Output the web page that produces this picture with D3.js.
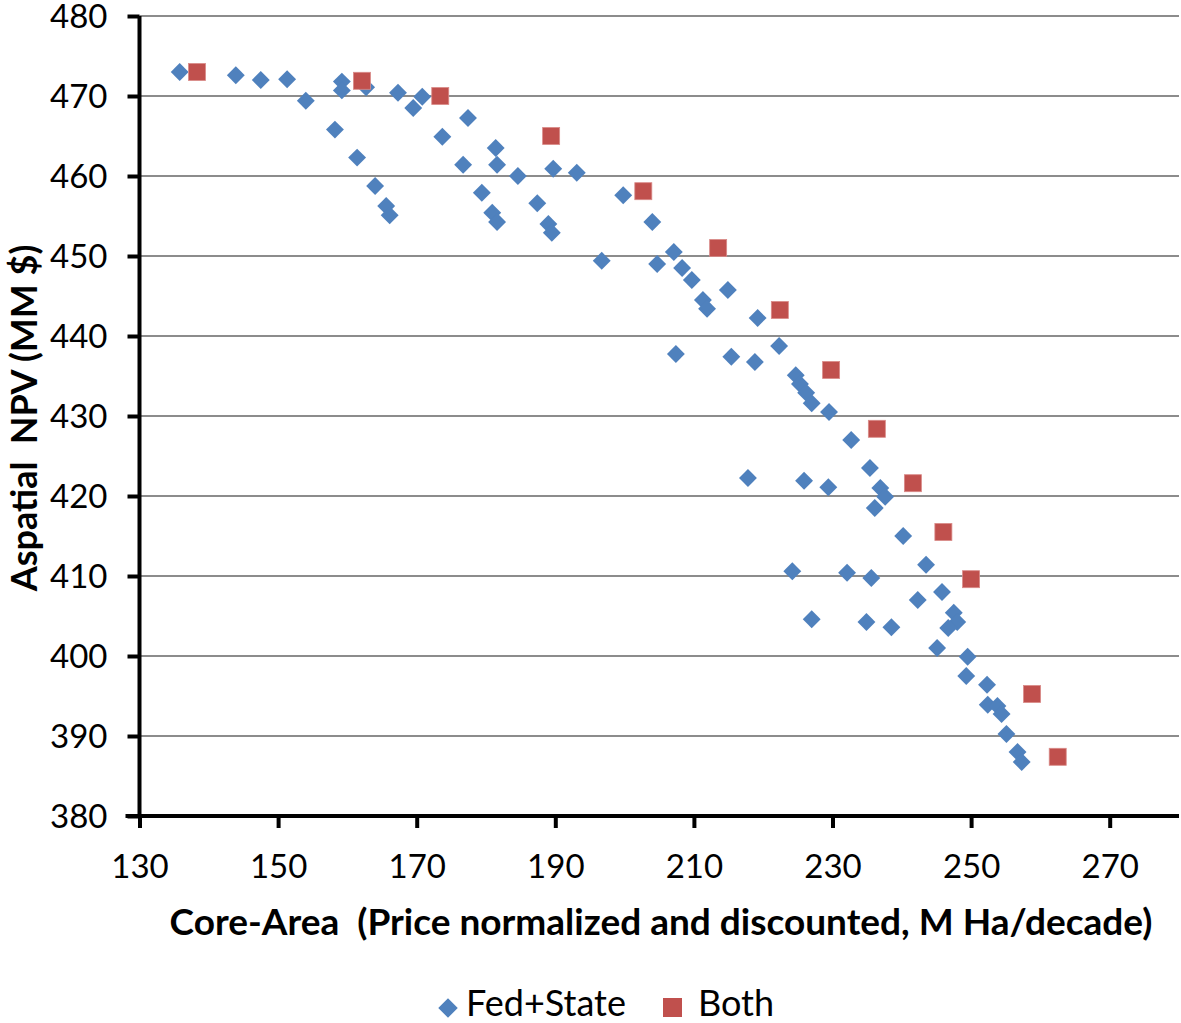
<!DOCTYPE html>
<html><head><meta charset="utf-8">
<script src="https://cdn.jsdelivr.net/npm/d3@7"></script>
<style>body{margin:0;background:#fff}svg{display:block}text{font-family:Lato,"Open Sans",sans-serif;fill:#000}</style>
</head><body>
<script>
const xTicks = [130,150,170,190,210,230,250,270];
const yTicks = [380,390,400,410,420,430,440,450,460,470,480];
const seriesNames = ["Fed+State","Both"];
const fedX = [135.8,143.9,147.5,151.3,154.0,159.2,159.2,162.7,167.3,169.5,170.8,158.2,161.4,164.0,165.6,166.1,173.7,177.4,176.7,179.4,181.4,181.6,180.9,181.6,184.6,187.4,189.0,189.5,189.7,193.1,196.7,199.8,204.0,204.7,207.1,208.3,209.7,211.3,211.9,207.4,214.9,215.4,219.2,218.8,222.3,224.7,225.3,226.2,227.0,229.5,232.7,217.8,225.9,229.4,235.4,236.9,237.6,236.1,240.2,243.5,224.2,232.1,235.6,242.3,245.8,247.5,248.0,246.7,227.0,234.9,238.5,245.1,249.5,249.3,252.3,252.4,253.8,254.4,255.1,256.7,257.3];
const fedY = [473.0,472.6,472.0,472.1,469.4,471.8,470.7,471.1,470.4,468.5,469.9,465.8,462.3,458.75,456.25,455.1,464.9,467.25,461.4,457.9,463.5,461.4,455.4,454.25,460.0,456.6,454.0,452.9,460.9,460.4,449.4,457.6,454.25,449.0,450.5,448.5,447.0,444.5,443.4,437.75,445.75,437.4,442.25,436.75,438.75,435.1,434.0,432.9,431.6,430.5,427.0,422.25,421.9,421.1,423.5,421.0,419.9,418.5,415.0,411.4,410.6,410.4,409.75,407.0,408.0,405.4,404.25,403.5,404.6,404.25,403.6,401.0,399.9,397.5,396.4,393.9,393.75,392.75,390.25,388.0,386.75];
const bothX = [138.3,162.1,173.4,189.4,202.7,213.5,222.4,229.8,236.4,241.6,246.0,250.0,258.8,262.5];
const bothY = [473.0,471.9,470.0,465.0,458.1,451.0,443.25,435.75,428.4,421.6,415.5,409.6,395.25,387.4];

const W=1181,H=1023;
const svg=d3.select("body").append("svg").attr("width",W).attr("height",H);
const x=d3.scaleLinear().domain([130,280]).range([139.5,1179]);
const y=d3.scaleLinear().domain([380,480]).range([816,16]);
const blue="#4F81BD", red="#C0504D";
const FONT="Lato, 'Open Sans', sans-serif";

// gridlines
svg.append("g").selectAll("line").data(yTicks.filter(v=>v>380)).join("line")
 .attr("x1",x(130)).attr("x2",x(280)).attr("y1",d=>y(d)).attr("y2",d=>y(d))
 .attr("stroke","#8c8c8c").attr("stroke-width",1.8);

// y axis
const ya=svg.append("g").attr("transform",`translate(${x(130)},0)`)
 .call(d3.axisLeft(y).tickValues(yTicks).tickSize(12).tickPadding(20).tickFormat(d3.format("d")));
ya.select(".domain").attr("stroke","#000").attr("stroke-width",4).attr("d",`M0,${y(480)}V${y(380)}`);
ya.selectAll(".tick line").attr("stroke","#000").attr("stroke-width",4);
ya.selectAll(".tick text").attr("font-size",33).attr("font-family",FONT).attr("fill","#000").attr("dy","0.36em");

// x axis
const xa=svg.append("g").attr("transform",`translate(0,${y(380)})`)
 .call(d3.axisBottom(x).tickValues(xTicks).tickSize(12).tickPadding(27).tickFormat(d3.format("d")));
xa.select(".domain").attr("stroke","#000").attr("stroke-width",4).attr("d",`M${x(130)-14},0H${x(280)}`);
xa.selectAll(".tick line").attr("stroke","#000").attr("stroke-width",4);
xa.selectAll(".tick text").attr("font-size",33).attr("font-family",FONT).attr("fill","#000");

// points
const fed=fedX.map((v,i)=>({x:v,y:fedY[i]}));
const both=bothX.map((v,i)=>({x:v,y:bothY[i]}));
const diamond=d3.symbol().type(d3.symbolSquare).size(160);
svg.append("g").selectAll("path").data(fed).join("path")
 .attr("d",diamond).attr("transform",d=>`translate(${x(d.x)},${y(d.y)}) rotate(45)`)
 .attr("fill",blue);
const sq=17;
svg.append("g").selectAll("rect").data(both).join("rect")
 .attr("x",d=>x(d.x)-sq/2).attr("y",d=>y(d.y)-sq/2).attr("width",sq).attr("height",sq)
 .attr("fill",red).attr("stroke","#d98a88").attr("stroke-width",0.8);

// axis titles
svg.append("text").attr("x",661).attr("y",935).attr("text-anchor","middle")
 .attr("font-size",37).attr("font-weight","bold").style("white-space","pre")
 .text("Core-Area  (Price normalized and discounted, M Ha/decade)");
svg.append("text").attr("transform","translate(37,418) rotate(-90)").attr("text-anchor","middle")
 .attr("font-size",36).attr("font-weight","bold").style("white-space","pre")
 .text("Aspatial  NPV (MM $)");

// legend
const lg=svg.append("g");
lg.append("path").attr("d",d3.symbol().type(d3.symbolSquare).size(190)).attr("transform","translate(448,1008) rotate(45)").attr("fill",blue);
lg.append("text").attr("x",466).attr("y",1016).attr("font-size",36).text(seriesNames[0]);
lg.append("rect").attr("x",663).attr("y",998).attr("width",19).attr("height",19).attr("fill",red);
lg.append("text").attr("x",698).attr("y",1016).attr("font-size",36).text(seriesNames[1]);
</script>
</body></html>
